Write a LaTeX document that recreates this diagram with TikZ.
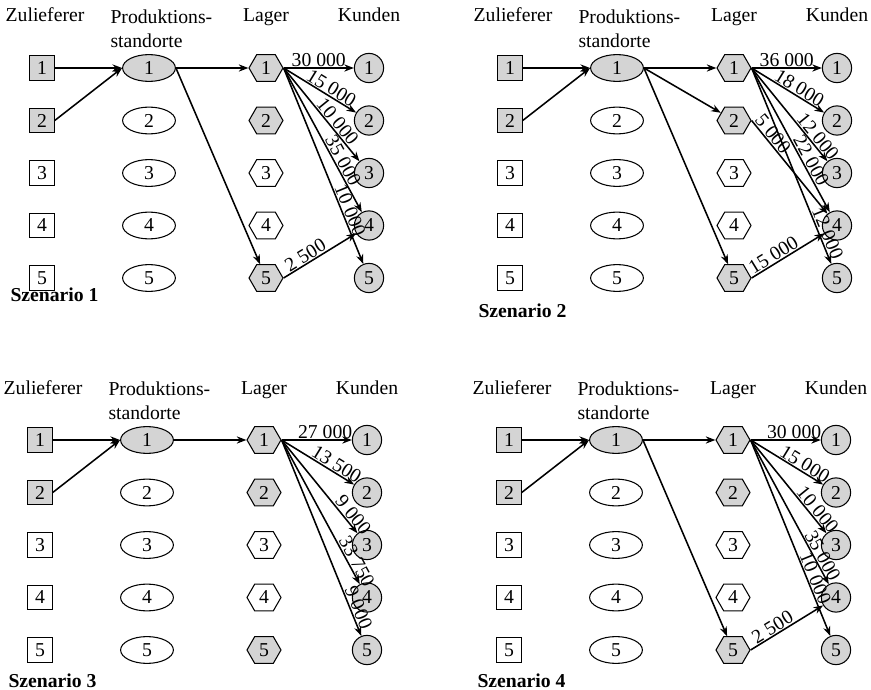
\documentclass[tikz,border=0pt]{standalone}
\usepackage{fontspec}
\setmainfont{Liberation Serif}
\usetikzlibrary{arrows.meta}
\usetikzlibrary{shapes.geometric}
\usetikzlibrary{shapes.symbols}
\tikzstyle{active} = [fill=black!17]
\tikzstyle{idle} = [fill=white]
\tikzstyle{zulnode} = [draw, rectangle, minimum size=0.61cm, inner sep=0pt]
\tikzstyle{prodnode} = [draw, ellipse, minimum width=1.32cm, minimum height=0.67cm, inner sep=0pt]
\tikzstyle{lagnode} = [draw, signal, signal to=east and west, signal pointer angle=120, minimum width=0.85cm, minimum height=0.67cm, inner sep=0pt]
\tikzstyle{kundnode} = [draw, circle, minimum size=0.73cm, inner sep=0pt, active]
\tikzstyle{flow} = [-{Stealth[length=2.4mm,width=1.8mm]}, line width=1.1pt]
\tikzstyle{amount} = [sloped, above, inner sep=0.6pt]

\begin{document}
\begin{tikzpicture}[x=0.025cm, y=-0.025cm, line width=0.75pt, font=\fontsize{14}{17}\selectfont]
  \useasboundingbox (0,0) rectangle (871,690);

  % the four panels share the same nodes
  \foreach \n/\dx/\dy/\ty in {1/0/0/301, 2/468/0/318, 3/-2/372/315, 4/467/372/315} {
    \begin{scope}[shift={(\dx,\dy)}]
      \node[anchor=base] (s\n-zul) at (45,22) {Zulieferer};
      \node[anchor=north west, align=left, inner sep=0pt] (s\n-prod) at (110,9) {Produktions-\\standorte};
      \node[anchor=base] (s\n-lag) at (266,22) {Lager};
      \node[anchor=base] (s\n-kund) at (369,22) {Kunden};
      \node[anchor=base west, inner sep=0pt, font=\fontsize{14}{17}\selectfont\bfseries] (s\n-title) at (10,\ty) {Szenario \n};
      \foreach \i/\zs/\ps/\ls in {1/active/active/active, 2/active/idle/active, 3/idle/idle/idle, 4/idle/idle/idle, 5/idle/idle/active} {
        \node[zulnode, \zs] (s\n z\i) at (42, {68+52.5*(\i-1)}) {\i};
        \node[prodnode, \ps] (s\n p\i) at (149, {68+52.5*(\i-1)}) {\i};
        \node[lagnode, \ls] (s\n l\i) at (266, {68+52.5*(\i-1)}) {\i};
        \node[kundnode] (s\n k\i) at (369, {68+52.5*(\i-1)}) {\i};
      }
    \end{scope}
  }

  % Szenario 1
  \draw[flow] (s1z1) -- (s1p1);
  \draw[flow] (s1z2.east) -- (s1p1.west);
  \draw[flow] (s1p1) -- (s1l1);
  \draw[flow] (s1p1.east) -- (s1l5);
  \draw[flow] (s1l1.east) -- node[amount, pos=.5] {30 000} (s1k1);
  \draw[flow] (s1l1.east) -- node[amount, pos=.6] {15 000} (s1k2);
  \draw[flow] (s1l1.east) -- node[amount, pos=.63] {10 000} (s1k3);
  \draw[flow] (s1l1.east) -- node[amount, pos=.67] {35 000} (s1k4);
  \draw[flow] (s1l1.east) -- node[amount, pos=.74] {10 000} (s1k5);
  \draw[flow] (s1l5.east) -- node[amount, pos=.36] {2 500} (s1k4);

  % Szenario 2
  \draw[flow] (s2z1) -- (s2p1);
  \draw[flow] (s2z2.east) -- (s2p1.west);
  \draw[flow] (s2p1) -- (s2l1);
  \draw[flow] (s2p1.east) -- (s2l2);
  \draw[flow] (s2p1.east) -- (s2l5);
  \draw[flow] (s2l1.east) -- node[amount, pos=.5] {36 000} (s2k1);
  \draw[flow] (s2l1.east) -- node[amount, pos=.6] {18 000} (s2k2);
  \draw[flow] (s2l1.east) -- node[amount, pos=.79] {12 000} (s2k3);
  \draw[flow] (s2l1.east) -- node[amount, pos=.67] {22 000} (s2k4);
  \draw[flow] (s2l1.east) -- node[amount, pos=.86] {12 000} (s2k5);
  \draw[flow] (s2l2.east) -- node[amount, pos=.2] {5 000} (s2k4);
  \draw[flow] (s2l5.east) -- node[amount, pos=.36] {15 000} (s2k4);

  % Szenario 3
  \draw[flow] (s3z1) -- (s3p1);
  \draw[flow] (s3z2.east) -- (s3p1.west);
  \draw[flow] (s3p1) -- (s3l1);
  \draw[flow] (s3l1.east) -- node[amount, pos=.62] {27 000} (s3k1);
  \draw[flow] (s3l1.east) -- node[amount, pos=.7] {13 500} (s3k2);
  \draw[flow] (s3l1.east) -- node[amount, pos=.86] {9 000} (s3k3);
  \draw[flow] (s3l1.east) -- node[amount, pos=.87] {33 750} (s3k4);
  \draw[flow] (s3l1.east) -- node[amount, pos=.87] {9 000} (s3k5);

  % Szenario 4
  \draw[flow] (s4z1) -- (s4p1);
  \draw[flow] (s4z2.east) -- (s4p1.west);
  \draw[flow] (s4p1) -- (s4l1);
  \draw[flow] (s4p1.east) -- (s4l5);
  \draw[flow] (s4l1.east) -- node[amount, pos=.62] {30 000} (s4k1);
  \draw[flow] (s4l1.east) -- node[amount, pos=.69] {15 000} (s4k2);
  \draw[flow] (s4l1.east) -- node[amount, pos=.8] {10 000} (s4k3);
  \draw[flow] (s4l1.east) -- node[amount, pos=.83] {35 000} (s4k4);
  \draw[flow] (s4l1.east) -- node[amount, pos=.72] {10 000} (s4k5);
  \draw[flow] (s4l5.east) -- node[amount, pos=.36] {2 500} (s4k4);
\end{tikzpicture}
\end{document}
